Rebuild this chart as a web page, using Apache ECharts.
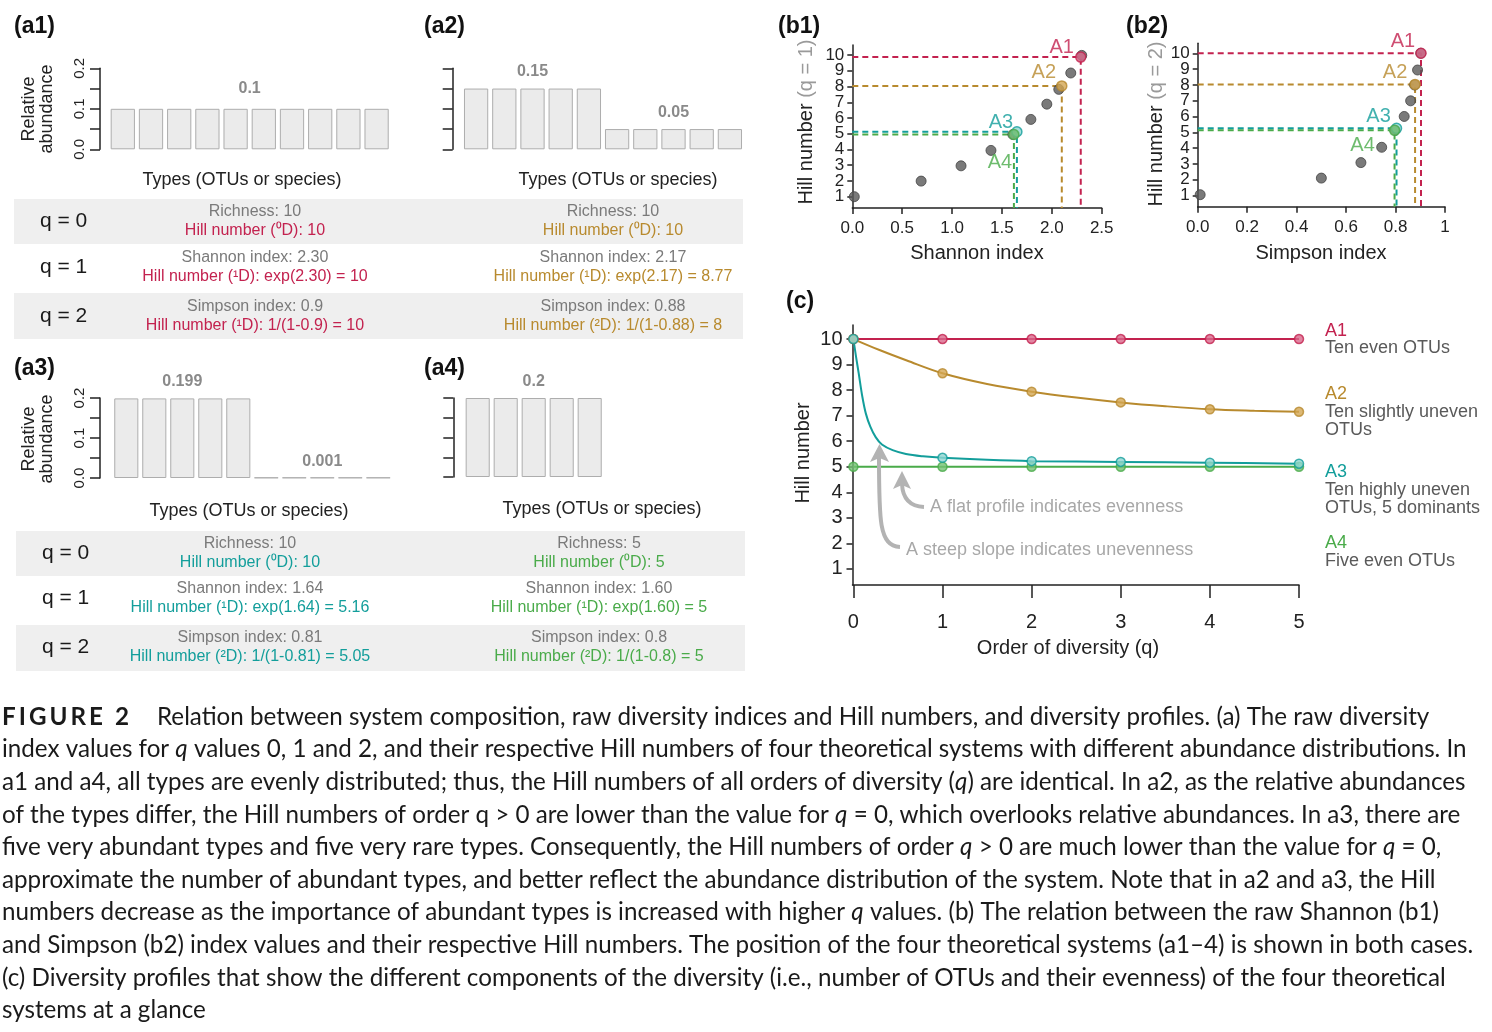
<!DOCTYPE html>
<html><head><meta charset="utf-8">
<script src="https://cdn.jsdelivr.net/npm/echarts@6/dist/echarts.min.js"></script>
<style>html,body{margin:0;padding:0;background:#fff;}#c{width:1492px;height:1032px;}</style>
</head><body><div id="c"></div>
<script>
// ---------- DATA ----------
const typeCats = ['1','2','3','4','5','6','7','8','9','10'];
const a1Abund = [0.1,0.1,0.1,0.1,0.1,0.1,0.1,0.1,0.1,0.1];
const a2Abund = [0.15,0.15,0.15,0.15,0.15,0.05,0.05,0.05,0.05,0.05];
const a3Abund = [0.199,0.199,0.199,0.199,0.199,0.001,0.001,0.001,0.001,0.001];
const a4Abund = [0.2,0.2,0.2,0.2,0.2];
const abundTicks = [0, 0.1, 0.2];

const systems = ['A1','A2','A3','A4'];
const b1GreyX = [0.02,0.69,1.09,1.39,1.61,1.79,1.95,2.07,2.19,2.30];
const b1GreyY = [1.0,1.99,2.96,3.94,4.95,5.91,6.88,7.82,8.86,9.98];
const b1SysX = [2.29,2.10,1.65,1.62];
const b1SysY = [9.87,8.04,5.13,4.95];
const b2GreyX = [0.01,0.50,0.66,0.744,0.798,0.835,0.861,0.877,0.889,0.902];
const b2GreyY = [1.05,2.1,3.08,4.05,5.13,6.0,6.99,7.99,8.94,10.0];
const b2SysX = [0.903,0.879,0.804,0.796];
const b2SysY = [10.0,8.03,5.25,5.12];
const hillTicks = [1,2,3,4,5,6,7,8,9,10];
const hillTicksOdd = [1,3,5,7,9];
const hillTicksEven = [2,4,6,8,10];

const qPoints = [0,1,2,3,4,5];
const profA1 = [10,10,10,10,10,10];
const profA2 = [10,8.66,7.94,7.52,7.25,7.15];
const profA3 = [10,5.35,5.22,5.19,5.16,5.12];
const profA4 = [5,5,5,5,5,5];
const curveA2Q = [0,0.3,0.6,1,1.5,2,2.5,3,3.5,4,4.5,5];
const curveA2 = [10,9.56,9.16,8.66,8.24,7.94,7.71,7.52,7.37,7.25,7.19,7.15];
const curveA3Q = [0,0.03,0.06,0.1,0.14,0.19,0.25,0.32,0.44,0.59,0.78,1,1.5,2,3,4,5];
const curveA3 = [10,9.3,8.65,7.75,7.08,6.57,6.16,5.87,5.65,5.50,5.41,5.35,5.27,5.22,5.19,5.16,5.12];

const qLabels = ['q = 0','q = 1','q = 2'];
const tabA1Index = ['Richness: 10','Shannon index: 2.30','Simpson index: 0.9'];
const tabA1Hill  = ['Hill number (⁰D): 10','Hill number (¹D): exp(2.30) = 10','Hill number (¹D): 1/(1-0.9) = 10'];
const tabA2Index = ['Richness: 10','Shannon index: 2.17','Simpson index: 0.88'];
const tabA2Hill  = ['Hill number (⁰D): 10','Hill number (¹D): exp(2.17) = 8.77','Hill number (²D): 1/(1-0.88) = 8'];
const tabA3Index = ['Richness: 10','Shannon index: 1.64','Simpson index: 0.81'];
const tabA3Hill  = ['Hill number (⁰D): 10','Hill number (¹D): exp(1.64) = 5.16','Hill number (²D): 1/(1-0.81) = 5.05'];
const tabA4Index = ['Richness: 5','Shannon index: 1.60','Simpson index: 0.8'];
const tabA4Hill  = ['Hill number (⁰D): 5','Hill number (¹D): exp(1.60) = 5','Hill number (²D): 1/(1-0.8) = 5'];

const legendNames = ['A1','A2','A3','A4'];
const legendDesc = [['Ten even OTUs'],['Ten slightly uneven','OTUs'],['Ten highly uneven','OTUs, 5 dominants'],['Five even OTUs']];

const captionLines = [
 'Relation between system composition, raw diversity indices and Hill numbers, and diversity profiles. (a) The raw diversity',
 'index values for {i|q} values 0, 1 and 2, and their respective Hill numbers of four theoretical systems with different abundance distributions. In',
 'a1 and a4, all types are evenly distributed; thus, the Hill numbers of all orders of diversity ({i|q}) are identical. In a2, as the relative abundances',
 'of the types differ, the Hill numbers of order q > 0 are lower than the value for {i|q} = 0, which overlooks relative abundances. In a3, there are',
 'five very abundant types and five very rare types. Consequently, the Hill numbers of order {i|q} > 0 are much lower than the value for {i|q} = 0,',
 'approximate the number of abundant types, and better reflect the abundance distribution of the system. Note that in a2 and a3, the Hill',
 'numbers decrease as the importance of abundant types is increased with higher {i|q} values. (b) The relation between the raw Shannon (b1)',
 'and Simpson (b2) index values and their respective Hill numbers. The position of the four theoretical systems (a1–4) is shown in both cases.',
 '(c) Diversity profiles that show the different components of the diversity (i.e., number of OTUs and their evenness) of the four theoretical',
 'systems at a glance'
];

// ---------- STYLE ----------
const FONT = '"Liberation Sans", Arial, Helvetica, sans-serif';
const COL = ['#c3224f','#b88a2e','#139e9b','#4aab4a'];
const FILL = ['#d9688b','#d3a653','#8fd6d2','#74c274'];
const AX = '#222';

const chart = echarts.init(document.getElementById('c'));

function txt(x, y, text, o) {
  o = o || {};
  return {type:'text', x:x, y:y, rotation:o.rot||0, z:10, silent:true,
    style:{text:text, fill:o.color||'#222', fontSize:o.size||16, fontFamily:o.font||FONT,
      fontWeight:o.weight||'normal', align:o.align||'center', verticalAlign:o.va||'middle',
      lineHeight:o.lh||undefined, rich:o.rich||undefined}};
}
function rect(x,y,w,h,fill){return {type:'rect', z:0, silent:true, shape:{x:x,y:y,width:w,height:h}, style:{fill:fill}};}

// ---------- AXES for (a) ----------
function abundX(gi){return {gridIndex:gi, type:'category', data:typeCats, axisLine:{show:false}, axisTick:{show:false}, axisLabel:{show:false}, splitLine:{show:false}};}
function abundY(gi, offset, showLabels){
  return {gridIndex:gi, type:'value', position:'left', min:0, max:0.2, interval:0.05, offset:offset,
    axisLine:{show:true, lineStyle:{color:AX, width:1.5}},
    axisTick:{show:true, length:10, lineStyle:{color:AX, width:1.5}},
    axisLabel:{show:showLabels, customValues:abundTicks, showMinLabel:true, showMaxLabel:true, rotate:90, margin:13, fontSize:15, color:'#222', fontFamily:FONT,
      formatter:function(v){return v.toFixed(1);}},
    splitLine:{show:false}};
}
function barSeries(gi, vals, labels){
  return {type:'bar', xAxisIndex:gi, yAxisIndex:gi, barCategoryGap:'14%', silent:true,
    itemStyle:{color:'#ebebeb', borderColor:'#adadad', borderWidth:1},
    data: vals.map(function(v,i){
      const lb = labels[i];
      if(!lb) return v;
      return {value:v, label:{show:true, position:'top', distance:lb[1], offset:[lb[0],0], formatter:'{c}',
        fontSize:16, fontWeight:'bold', color:'#8a8a8a', fontFamily:FONT}};
    })};
}

// ---------- b & c axes ----------
function hillY(gi, min, max, size, margin, len, labelVals){
  return {gridIndex:gi, type:'value', position:'left', offset:0, min:min, max:max,
    axisLine:{show:true, onZero:false, lineStyle:{color:AX, width:1.5}},
    axisTick:{show:true, customValues:hillTicks, length:len, lineStyle:{color:AX, width:1.5}},
    axisLabel:{customValues:labelVals, showMinLabel:true, showMaxLabel:true, fontSize:size,
      margin:margin, color:'#222', fontFamily:FONT},
    splitLine:{show:false}};
}
function hillYLabelsOnly(gi, min, max, size, margin, labelVals){
  return {gridIndex:gi, type:'value', position:'left', offset:0, min:min, max:max,
    axisLine:{show:false, onZero:false}, axisTick:{show:false},
    axisLabel:{customValues:labelVals, showMinLabel:true, showMaxLabel:true, fontSize:size,
      margin:margin, color:'#222', fontFamily:FONT},
    splitLine:{show:false}};
}

const series = [];
series.push(barSeries(0, a1Abund, {4:[14,12]}));
series.push(barSeries(1, a2Abund, {2:[0,9], 7:[0,8]}));
series.push(barSeries(2, a3Abund, {2:[0,9], 7:[0,8]}));
series.push(barSeries(3, a4Abund, {2:[0,8]}));

function greyScatter(gi, xs, ys){
  return {type:'scatter', xAxisIndex:gi, yAxisIndex:gi, symbolSize:10, z:3, silent:true,
    itemStyle:{color:'#595959', borderColor:'#444', borderWidth:1},
    data: xs.map(function(x,i){return [x, ys[i]];})};
}
function dashLines(gi, xs, ys, ymin){
  return xs.map(function(x,i){
    return {type:'line', xAxisIndex:gi, yAxisIndex:gi, symbol:'none', z:2, silent:true,
      lineStyle:{color:COL[i], width:2, type:[6,4]},
      data:[[0, ys[i]],[x, ys[i]],[x, ymin]]};
  });
}
function sysScatter(gi, xs, ys, offs){
  return xs.map(function(x,i){
    return {type:'scatter', xAxisIndex:gi, yAxisIndex:gi, symbolSize:10, z:4, silent:true,
      itemStyle:{color:FILL[i], borderColor:COL[i], borderWidth:1.5},
      label:{show:true, position:'inside', offset:offs[i], formatter:systems[i], fontSize:20, color:COL[i], fontFamily:FONT},
      data:[[x, ys[i]]]};
  });
}
series.push(greyScatter(4, b1GreyX, b1GreyY));
dashLines(4, b1SysX, b1SysY, 0.28).forEach(function(s){series.push(s);});
sysScatter(4, b1SysX, b1SysY, [[-19,-10],[-18,-13],[-16,-9],[-14,28]]).forEach(function(s){series.push(s);});
series.push(greyScatter(5, b2GreyX, b2GreyY));
dashLines(5, b2SysX, b2SysY, 0.29).forEach(function(s){series.push(s);});
sysScatter(5, b2SysX, b2SysY, [[-18,-12],[-20,-12],[-18,-12],[-32,15]]).forEach(function(s){series.push(s);});

// (c) profiles
const curves = [
  qPoints.map(function(q,i){return [q, profA1[i]];}),
  curveA2Q.map(function(q,i){return [q, curveA2[i]];}),
  curveA3Q.map(function(q,i){return [q, curveA3[i]];}),
  qPoints.map(function(q,i){return [q, profA4[i]];})
];
const profPts = [profA1, profA2, profA3, profA4];
[0,1,3,2].forEach(function(i){
  series.push({type:'line', xAxisIndex:6, yAxisIndex:6, symbol:'none', smooth:0.35, z:2, silent:true,
    lineStyle:{color:COL[i], width:2}, data:curves[i]});
});
[0,1,3,2].forEach(function(i){
  series.push({type:'scatter', xAxisIndex:6, yAxisIndex:6, symbolSize:9, z:3, silent:true,
    itemStyle:{color:FILL[i], borderColor:COL[i], borderWidth:1.5},
    data: qPoints.map(function(q,k){return [q, profPts[i][k]];})});
});

// ---------- GRAPHIC ----------
const g = [];
[['(a1)',14,27],['(a2)',424,27],['(a3)',14,369],['(a4)',424,369],['(b1)',778,27],['(b2)',1126,27],['(c)',786,302]].forEach(function(p){
  g.push(txt(p[1], p[2], p[0], {size:23, weight:'bold', align:'left', color:'#111'}));
});
g.push(txt(38,109,'Relative\nabundance',{rot:Math.PI/2, size:18, lh:18}));
g.push(txt(38,439,'Relative\nabundance',{rot:Math.PI/2, size:18, lh:18}));
[[242,180],[618,180],[249,511],[602,509]].forEach(function(p){ g.push(txt(p[0],p[1],'Types (OTUs or species)',{size:18})); });

function table(x0, x1, rowYs, bandTop, c1x, c2x, idx1, hill1, col1, idx2, hill2, col2){
  g.push(rect(x0, bandTop[0], x1-x0, 45, '#efefef'));
  g.push(rect(x0, bandTop[1], x1-x0, 46, '#efefef'));
  rowYs.forEach(function(y,i){
    g.push(txt(x0+26, y, qLabels[i], {size:21, align:'left', color:'#1a1a1a'}));
    g.push(txt(c1x, y-9.5, idx1[i], {size:16, color:'#7a7a7a'}));
    g.push(txt(c1x, y+9.5, hill1[i], {size:16, color:col1}));
    g.push(txt(c2x, y-9.5, idx2[i], {size:16, color:'#7a7a7a'}));
    g.push(txt(c2x, y+9.5, hill2[i], {size:16, color:col2}));
  });
}
table(14, 743, [221,267,316], [199,293], 255, 613, tabA1Index, tabA1Hill, COL[0], tabA2Index, tabA2Hill, COL[1]);
table(16, 745, [553,598,647], [531,625], 250, 599, tabA3Index, tabA3Hill, COL[2], tabA4Index, tabA4Hill, COL[3]);

g.push(txt(806,122,'Hill number {g|(q = 1)}',{rot:Math.PI/2, size:20, rich:{g:{fill:'#9a9a9a', fontSize:20, fontFamily:FONT}}}));
g.push(txt(1156,124,'Hill number {g|(q = 2)}',{rot:Math.PI/2, size:20, rich:{g:{fill:'#9a9a9a', fontSize:20, fontFamily:FONT}}}));
g.push(txt(977,253,'Shannon index',{size:20}));
g.push(txt(1321,253,'Simpson index',{size:20}));
g.push(txt(803,453,'Hill number',{rot:Math.PI/2, size:20}));
g.push(txt(1068,648,'Order of diversity (q)',{size:20}));
const legY = [[331,[348]],[394,[412,430]],[472,[490,508]],[543,[561]]];
legY.forEach(function(L,i){
  g.push(txt(1325, L[0], legendNames[i], {size:18, align:'left', color:COL[i]}));
  L[1].forEach(function(y,k){ g.push(txt(1325, y, legendDesc[i][k], {size:18, align:'left', color:'#5a5a5a'})); });
});
const AG = '#b3b3b3';
g.push(txt(930,507,'A flat profile indicates evenness',{size:18, align:'left', color:'#a8a8a8'}));
g.push(txt(906,550,'A steep slope indicates unevenness',{size:18, align:'left', color:'#a8a8a8'}));
g.push({type:'bezierCurve', z:5, silent:true, shape:{x1:924,y1:507,cpx1:903,cpy1:506,x2:902,y2:484}, style:{stroke:AG, lineWidth:4, fill:null}});
g.push({type:'polygon', z:5, silent:true, shape:{points:[[902,471],[893,489],[902,485],[911,489]]}, style:{fill:AG}});
g.push({type:'bezierCurve', z:5, silent:true, shape:{x1:900,y1:547,cpx1:879,cpy1:546,cpx2:879,cpy2:520,x2:879,y2:458}, style:{stroke:AG, lineWidth:4, fill:null}});
g.push({type:'polygon', z:5, silent:true, shape:{points:[[879.5,444],[870,462],[879.5,458],[889,462]]}, style:{fill:AG}});

// caption
const CAP = '"Lato", "Liberation Sans", sans-serif';
const CS = 24.2;
g.push(txt(2,717,'F\u2009I\u2009G\u2009U\u2009R\u2009E\u2009\u2009 2',{size:CS, weight:'bold', align:'left', font:CAP, color:'#1a1a1a'}));
captionLines.forEach(function(line,i){
  g.push(txt(i===0?157:2, 717+i*32.6, line, {size:CS, align:'left', font:CAP, color:'#1a1a1a',
    rich:{i:{fontStyle:'italic', fontSize:CS, fontFamily:CAP, fill:'#1a1a1a'}}}));
});

const option = {
  backgroundColor:'#fff',
  animation:false,
  grid:[
    {left:108.7, top:68.3, width:282, height:81},
    {left:462, top:68.3, width:282, height:81},
    {left:112.3, top:398, width:280, height:80},
    {left:463.7, top:398, width:280, height:79},
    {left:852.3, top:45, width:249.4, height:163},
    {left:1197.7, top:43.3, width:247.3, height:163.4},
    {left:852.5, top:325, width:446.5, height:260}
  ],
  xAxis:[
    abundX(0), abundX(1), abundX(2), abundX(3),
    {gridIndex:4, type:'value', min:0, max:2.5, interval:0.5,
      axisLine:{onZero:false, lineStyle:{color:AX, width:1.5}}, axisTick:{length:6, lineStyle:{color:AX, width:1.5}},
      axisLabel:{fontSize:17, margin:12, showMinLabel:true, showMaxLabel:true, color:'#222', fontFamily:FONT, formatter:function(v){return v.toFixed(1);}}, splitLine:{show:false}},
    {gridIndex:5, type:'value', min:0, max:1, interval:0.2,
      axisLine:{onZero:false, lineStyle:{color:AX, width:1.5}}, axisTick:{length:6, lineStyle:{color:AX, width:1.5}},
      axisLabel:{fontSize:17, margin:12, showMinLabel:true, showMaxLabel:true, color:'#222', fontFamily:FONT, formatter:function(v){return v>0.999?'1':v.toFixed(1);}}, splitLine:{show:false}},
    {gridIndex:6, type:'value', min:-0.01, max:5,
      axisLine:{onZero:false, lineStyle:{color:AX, width:1.5}},
      axisTick:{customValues:qPoints, length:13, lineStyle:{color:AX, width:1.5}},
      axisLabel:{customValues:qPoints, showMinLabel:true, showMaxLabel:true, fontSize:20, margin:27, color:'#222', fontFamily:FONT}, splitLine:{show:false}}
  ],
  yAxis:[
    abundY(0, 8.7, true), abundY(1, 9.3, false), abundY(2, 12.3, true), abundY(3, 10.4, false),
    hillY(4, 0.28, 10.64, 17, 8, 5, hillTicksOdd),
    hillY(5, 0.29, 10.63, 17, 8, 5, hillTicksOdd),
    hillY(6, 0.37, 10.55, 20, 10, 6, hillTicks),
    hillYLabelsOnly(4, 0.28, 10.64, 17, 8, hillTicksEven),
    hillYLabelsOnly(5, 0.29, 10.63, 17, 8, hillTicksEven)
  ],
  series: series,
  graphic: g
};
chart.setOption(option);
</script>
</body></html>
